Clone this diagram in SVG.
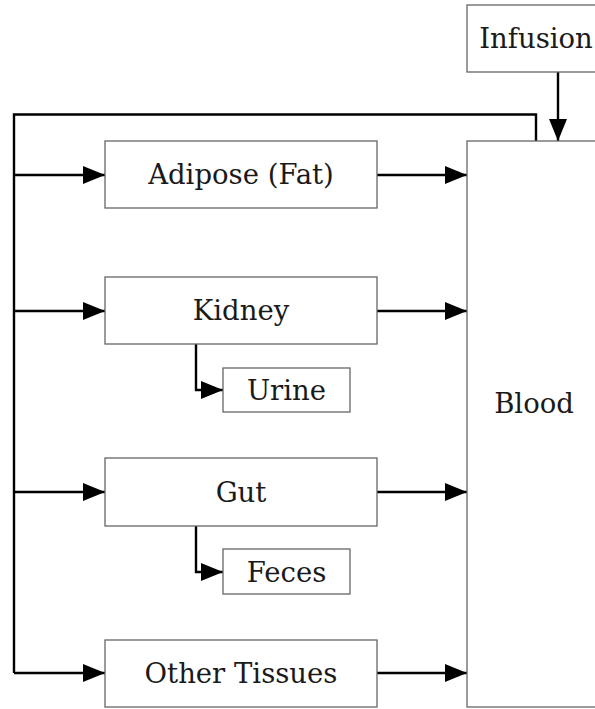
<svg xmlns="http://www.w3.org/2000/svg" width="595" height="709" viewBox="0 0 595 709">
<style>
.box{fill:#fff;stroke:#666;stroke-width:1.3}
.lbl{font-family:'DejaVu Serif','Liberation Serif',serif;font-size:27.5px;fill:#1a1a1a;text-anchor:middle}
.c{fill:none;stroke:#000;stroke-width:2.4}
</style>
<defs>
<marker id="ah" markerUnits="userSpaceOnUse" markerWidth="22" markerHeight="18" refX="22" refY="9" orient="auto">
<path d="M0,0 L22,9 L0,18 z" fill="#000"/>
</marker>
</defs>
<rect width="595" height="709" fill="#fff"/>
<g id="connectors">
<polyline class="c" points="536,141 536,114.5 14,114.5 14,673"/>
<line class="c" x1="14" y1="175" x2="105" y2="175" marker-end="url(#ah)"/>
<line class="c" x1="14" y1="311" x2="105" y2="311" marker-end="url(#ah)"/>
<line class="c" x1="14" y1="492" x2="105" y2="492" marker-end="url(#ah)"/>
<line class="c" x1="14" y1="673" x2="105" y2="673" marker-end="url(#ah)"/>
<line class="c" x1="377" y1="175" x2="467" y2="175" marker-end="url(#ah)"/>
<line class="c" x1="377" y1="311" x2="467" y2="311" marker-end="url(#ah)"/>
<line class="c" x1="377" y1="492" x2="467" y2="492" marker-end="url(#ah)"/>
<line class="c" x1="377" y1="673" x2="467" y2="673" marker-end="url(#ah)"/>
<line class="c" x1="558" y1="72" x2="558" y2="141" marker-end="url(#ah)"/>
<polyline class="c" points="196,344 196,390 223,390" marker-end="url(#ah)"/>
<polyline class="c" points="196,526 196,572 223,572" marker-end="url(#ah)"/>
</g>
<g id="infusion"><rect class="box" x="467" y="5" width="140" height="67"/><text class="lbl" x="536" y="48">Infusion</text></g>
<g id="blood"><rect class="box" x="467" y="141" width="140" height="566"/><text class="lbl" x="534" y="413">Blood</text></g>
<g id="adipose"><rect class="box" x="105" y="141" width="272" height="67"/><text class="lbl" x="241" y="184">Adipose (Fat)</text></g>
<g id="kidney"><rect class="box" x="105" y="277" width="272" height="67"/><text class="lbl" x="241" y="320">Kidney</text></g>
<g id="urine"><rect class="box" x="223" y="368" width="127" height="44"/><text class="lbl" x="286.5" y="400">Urine</text></g>
<g id="gut"><rect class="box" x="105" y="458" width="272" height="68"/><text class="lbl" x="241" y="502">Gut</text></g>
<g id="feces"><rect class="box" x="223" y="549" width="127" height="45"/><text class="lbl" x="286.5" y="582">Feces</text></g>
<g id="other"><rect class="box" x="105" y="640" width="272" height="67"/><text class="lbl" x="241" y="683">Other Tissues</text></g>
</svg>
